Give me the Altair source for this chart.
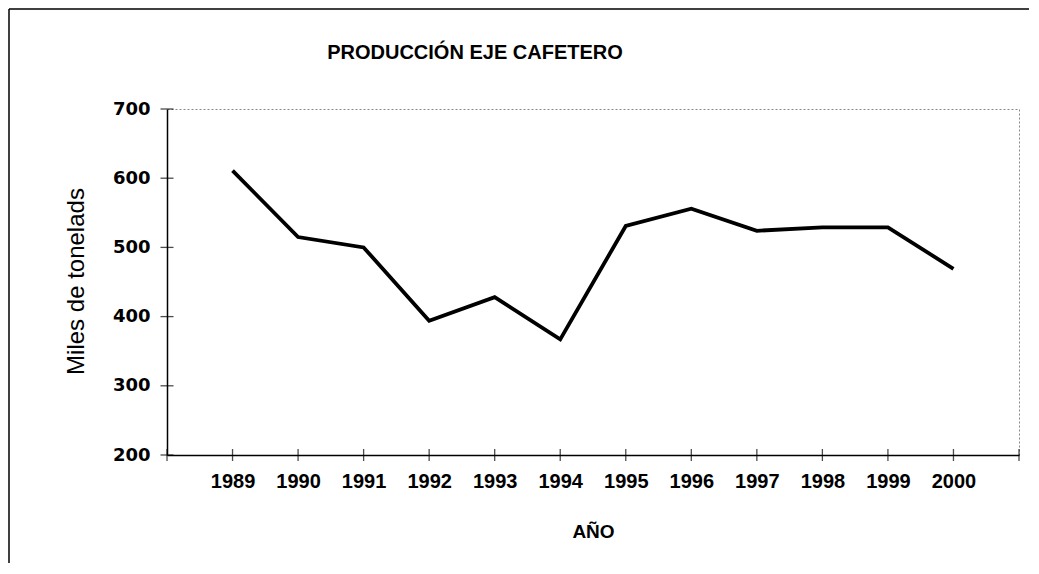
import altair as alt
import pandas as pd

years = [1989, 1990, 1991, 1992, 1993, 1994, 1995, 1996, 1997, 1998, 1999, 2000]
produccion = [611, 515, 500, 394, 428, 367, 531, 556, 524, 529, 529, 469]
x_ticks = list(range(1988, 2002))
y_ticks = [200, 300, 400, 500, 600, 700]
titulo = ["PRODUCCIÓN EJE CAFETERO"]

FONT = "Liberation Sans"
W, H = 852, 346

df = pd.DataFrame({"year": years, "value": produccion})
xt = pd.DataFrame({"year": x_ticks, "value": [200] * len(x_ticks)})
yt = pd.DataFrame({"year": [1988] * len(y_ticks), "value": y_ticks})
tdf = pd.DataFrame({"t": titulo})

xscale = alt.Scale(domain=[1988, 2001], nice=False, zero=False)
yscale = alt.Scale(domain=[200, 700], nice=False, zero=False)

line = alt.Chart(df).mark_line(color="black", strokeWidth=3.8).encode(
    x=alt.X("year:Q", scale=xscale,
            axis=alt.Axis(values=years, format="d", ticks=False, grid=False,
                          labelFont=FONT, labelFontSize=20, labelFontWeight="bold",
                          labelColor="black", labelPadding=16,
                          domainColor="black", domainWidth=1.5,
                          title="AÑO", titleFont=FONT, titleFontSize=19,
                          titleFontWeight="bold", titleColor="black",
                          titleBaseline="alphabetic", titleY=82)),
    y=alt.Y("value:Q", scale=yscale,
            axis=alt.Axis(values=y_ticks, ticks=False, grid=False,
                          labelFont="DejaVu Sans", labelFontSize=18, labelFontWeight="bold",
                          labelColor="black", labelPadding=17,
                          domainColor="black", domainWidth=1.5,
                          title="Miles de tonelads", titleFont=FONT, titleFontSize=24,
                          titleFontWeight="normal", titleColor="black",
                          titleBaseline="alphabetic", titleX=-84, titleY=172)),
)

xtick = alt.Chart(xt).mark_tick(orient="vertical", size=12, thickness=1.3, color="black").encode(
    x=alt.X("year:Q", scale=xscale), y=alt.Y("value:Q", scale=yscale)
)
ytick = alt.Chart(yt).mark_tick(orient="horizontal", size=13, thickness=1.3, color="black").encode(
    x=alt.X("year:Q", scale=xscale), y=alt.Y("value:Q", scale=yscale)
)

title = alt.Chart(tdf).mark_text(font=FONT, fontSize=20, fontWeight="bold", color="black",
                                  align="center", baseline="middle").encode(
    text="t:N", x=alt.value(308), y=alt.value(-56)
)

frame_df = pd.DataFrame({"k": [0]})
frame_top = alt.Chart(frame_df).mark_rule(color="black", strokeWidth=1.5).encode(
    x=alt.value(-158), x2=alt.value(W + 20), y=alt.value(-100)
)
frame_left = alt.Chart(frame_df).mark_rule(color="black", strokeWidth=1.5).encode(
    x=alt.value(-158), y=alt.value(-100), y2=alt.value(H + 120)
)

chart = alt.layer(frame_top, frame_left, title, line, xtick, ytick).properties(
    width=W, height=H,
    autosize=alt.AutoSizeParams(type="none"),
    padding={"left": 159, "top": 101, "right": 10, "bottom": 108},
).configure_view(stroke="#888", strokeDash=[2, 2], strokeWidth=1)

chart.save("out.html", embed_options={"renderer": "svg", "actions": False})
